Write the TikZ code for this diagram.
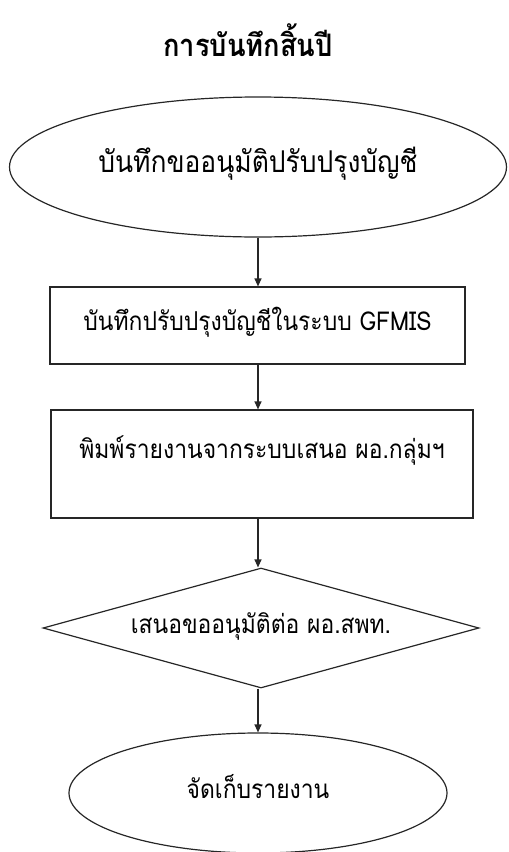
\documentclass[tikz,border=0pt]{standalone}
\usepackage{fontspec}
\newfontfamily\thaifont[Script=Thai,FakeStretch=0.88]{Loma}
\usetikzlibrary{shapes.geometric,arrows.meta}
\begin{document}
\begin{tikzpicture}[x=1pt,y=-1pt,
    line/.style={draw=black!85,line width=1.2pt},
    flow/.style={line,-{Triangle[length=8pt,width=7pt]}},
    txt/.style={font=\thaifont\fontsize{26}{30}\selectfont,inner sep=0pt,text height=17pt,text depth=7pt}]
            \useasboundingbox (0,0) rectangle (509,852);
            \node[font=\thaifont\bfseries\fontsize{31}{36}\selectfont] (title) at (248,40) {การบันทึกสิ้นปี};
            \node[txt,line,shape=ellipse,minimum width=497pt,minimum height=140pt,font=\thaifont\fontsize{30}{34}\selectfont] (start) at (258,167) {บันทึกขออนุมัติปรับปรุงบัญชี};
            \node[txt,line,shape=rectangle,minimum width=415pt,minimum height=77pt] (box1) at (257.5,325.5) {บันทึกปรับปรุงบัญชีในระบบ GFMIS};
            \node[txt,line,shape=rectangle,minimum width=422pt,minimum height=108pt,text depth=29pt] (box2) at (262,464) {พิมพ์รายงานจากระบบเสนอ ผอ.กลุ่มฯ};
            \node[txt,line,shape=diamond,aspect=3.6,minimum width=436pt,minimum height=120pt] (ask) at (261,628) {เสนอขออนุมัติต่อ ผอ.สพท.};
            \node[txt,line,shape=ellipse,minimum width=378pt,minimum height=120pt] (keep) at (258,793) {จัดเก็บรายงาน};

            \path (start.south) edge [flow] (start.south |- box1.north);
            \path (start.south |- box1.south) edge [flow] (start.south |- box2.north);
            \path (start.south |- box2.south) edge [flow] (start.south |- ask.north);
            \path (start.south |- ask.south) edge [flow] (keep.north);
        \end{tikzpicture}
\end{document}
